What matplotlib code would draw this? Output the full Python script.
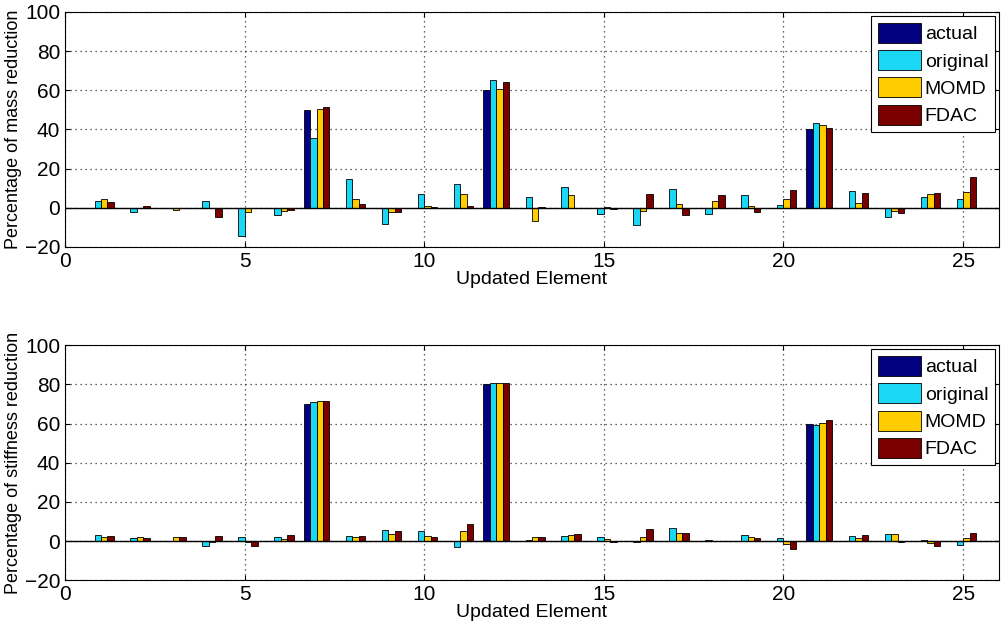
import matplotlib
matplotlib.use('Agg')
import matplotlib.pyplot as plt
import numpy as np

plt.rcParams.update({'font.size': 13, 'font.family': ['Liberation Sans', 'DejaVu Sans']})

elements = np.arange(1, 26)
series = ['actual', 'original', 'MOMD', 'FDAC']
colors = ['#000080', '#1ad8f5', '#ffcc00', '#7a0000']

# mass reduction (%)
mass_actual = [0, 0, 0, 0, 0, 0, 50, 0, 0, 0, 0, 60, 0, 0, 0, 0, 0, 0, 0, 0, 40, 0, 0, 0, 0]
mass_original = [3.4, -2.2, 0, 3.7, -14.3, -3.7, 35.4, 14.8, -8.5, 6.8, 12.1, 65.1, 5.3, 10.5,
                 -3.4, -8.7, 9.5, -3.2, 6.3, 1.5, 43.2, 8.5, -4.8, 5.3, 4.6]
mass_momd = [4.4, 0, -1.2, 0, -2.2, -1.7, 50.2, 4.3, -2.0, 1.0, 6.8, 60.5, -6.5, 6.3,
             0.5, -1.7, 2.0, 3.7, 1.0, 4.3, 42.2, 2.4, -1.7, 6.8, 8.0]
mass_fdac = [3.2, 1.0, 0, -4.9, 0, -1.2, 51.4, 2.0, -2.2, 0.3, 0.7, 64.2, 0.5, 0,
             -0.7, 6.8, -3.9, 6.3, -2.2, 9.0, 40.5, 7.3, -2.7, 7.3, 15.8]

# stiffness reduction (%)
stiff_actual = [0, 0, 0, 0, 0, 0, 70, 0, 0, 0, 0, 80, 0, 0, 0, 0, 0, 0, 0, 0, 60, 0, 0, 0, 0]
stiff_original = [3.0, 1.5, 0, -2.7, 2.0, 2.0, 71.0, 2.5, 5.4, 4.9, -3.0, 80.5, 0.5, 2.5,
                  2.0, -0.5, 6.9, 0.5, 3.0, 1.5, 59.5, 2.5, 3.7, 0.5, -2.2]
stiff_momd = [2.2, 2.0, 2.0, -0.5, -0.7, 1.0, 71.4, 2.0, 3.6, 2.5, 4.9, 80.5, 2.0, 3.0,
              1.0, 2.0, 3.9, 0, 2.0, -1.7, 60.5, 1.5, 3.7, -1.2, 1.5]
stiff_fdac = [2.5, 1.4, 2.0, 2.5, -2.7, 3.0, 71.4, 2.5, 4.9, 2.0, 8.5, 80.5, 2.0, 3.6,
              -0.7, 6.3, 4.2, 0, 1.5, -4.2, 62.0, 3.0, -0.5, -2.4, 4.2]


def draw_panel(ax, data, ylabel):
    width = 0.18
    for i, (vals, name, c) in enumerate(zip(data, series, colors)):
        ax.bar(elements + (i - 1.5) * width, vals, width, color=c, edgecolor='black',
               linewidth=0.6, label=name, zorder=3)
    ax.axhline(0, color='black', linewidth=1, zorder=4)
    ax.set_xlim(0, 26)
    ax.set_ylim(-20, 100)
    ax.set_xticks(range(0, 26, 5))
    ax.set_yticks(range(-20, 101, 20))
    ax.grid(True, linestyle=(0, (1, 3)), color='#333333', linewidth=0.9, zorder=0)
    ax.tick_params(direction='in', top=True, right=True, labelsize=15)
    ax.set_xlabel('Updated Element', fontsize=14, labelpad=0)
    ax.set_ylabel(ylabel, fontsize=13, labelpad=2)
    leg = ax.legend(loc='upper right', fancybox=False, edgecolor='black', fontsize=14,
                    handlelength=2.2, handleheight=1.2, labelspacing=0.35,
                    borderaxespad=0.2, handletextpad=0.2, borderpad=0.35, framealpha=1)
    leg.get_frame().set_linewidth(0.8)


fig = plt.figure(figsize=(10.01, 6.30), dpi=100)
ax1 = fig.add_axes([0.065, 0.608, 0.933, 0.373])
ax2 = fig.add_axes([0.065, 0.079, 0.933, 0.373])

draw_panel(ax1, [mass_actual, mass_original, mass_momd, mass_fdac], 'Percentage of mass reduction')
draw_panel(ax2, [stiff_actual, stiff_original, stiff_momd, stiff_fdac], 'Percentage of stiffness reduction')

fig.savefig('out.png', dpi=100)
